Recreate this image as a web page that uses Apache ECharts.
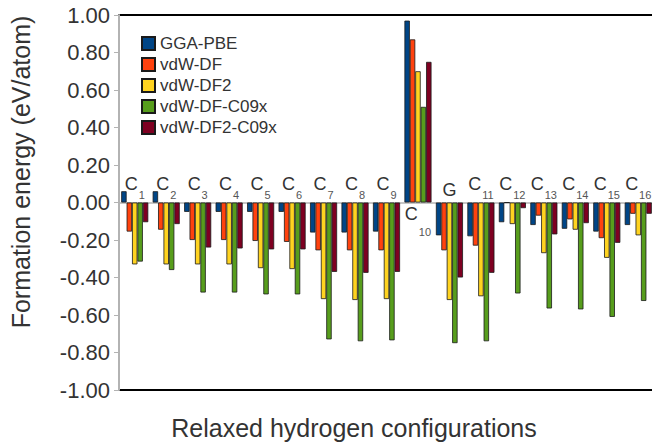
<!DOCTYPE html>
<html>
<head>
<meta charset="utf-8">
<script src="https://cdn.jsdelivr.net/npm/echarts@6/dist/echarts.min.js"></script>
<style>
  html, body { margin: 0; padding: 0; background: #fff; }
  #chart { width: 652px; height: 445px; }
</style>
</head>
<body>
<div id="chart"></div>
<script>
// Hydrogen configurations along the x axis
const categories = ['C1', 'C2', 'C3', 'C4', 'C5', 'C6', 'C7', 'C8', 'C9', 'C10',
                    'G', 'C11', 'C12', 'C13', 'C14', 'C15', 'C16'];

// Formation energies (eV/atom) per functional
const ggaPbe   = [0.06, 0.06, -0.05, -0.05, -0.05, -0.05, -0.16, -0.16, -0.155, 0.97,
                  -0.175, -0.18, -0.105, -0.12, -0.14, -0.155, -0.12];
const vdwDf    = [-0.155, -0.145, -0.20, -0.20, -0.205, -0.21, -0.255, -0.255, -0.255, 0.87,
                  -0.255, -0.23, 0.0, -0.07, -0.09, -0.19, -0.06];
const vdwDf2   = [-0.33, -0.33, -0.33, -0.33, -0.35, -0.355, -0.515, -0.52, -0.515, 0.70,
                  -0.52, -0.50, -0.115, -0.27, -0.145, -0.295, -0.175];
const vdwDfC09 = [-0.315, -0.36, -0.48, -0.48, -0.49, -0.49, -0.73, -0.74, -0.735, 0.51,
                  -0.75, -0.74, -0.485, -0.565, -0.57, -0.61, -0.525];
const vdwDf2C09 = [-0.105, -0.115, -0.24, -0.245, -0.25, -0.25, -0.37, -0.375, -0.37, 0.75,
                   -0.40, -0.375, -0.03, -0.17, -0.11, -0.215, -0.06];

const seriesNames = ['GGA-PBE', 'vdW-DF', 'vdW-DF2', 'vdW-DF-C09x', 'vdW-DF2-C09x'];
const seriesValues = [ggaPbe, vdwDf, vdwDf2, vdwDfC09, vdwDf2C09];
const seriesColors = ['#004586', '#ff420e', '#ffd320', '#579d1c', '#7e0021'];

// Y axis ticks
const yMin = -1.0, yMax = 1.0, yStep = 0.2;

const FONT = "'Liberation Sans', Arial, sans-serif";

// Plot area
const GRID_TOP = 15, GRID_BOTTOM = 55, CHART_H = 445;
const plotH = CHART_H - GRID_TOP - GRID_BOTTOM;
// distance from the plot's bottom / top edge up / down to the zero line
const zeroFromBottom = plotH * (0 - yMin) / (yMax - yMin);
const zeroFromTop = plotH * (yMax - 0) / (yMax - yMin);

// Category with positive bars gets its label under the zero line
const belowLabels = ['C10'];

function richLabel(name, sub) {
  const m = /^([A-Z])(\d+)$/.exec(name);
  if (!m) return '{c|' + name + '}';
  return '{c|' + m[1] + '}{' + sub + '|' + m[2] + '}';
}

const richStyles = {
  c: { fontSize: 18, fontFamily: FONT, color: '#333333', verticalAlign: 'top', lineHeight: 20 },
  s: { fontSize: 11, fontFamily: FONT, color: '#555555', verticalAlign: 'bottom', padding: [15, 0, 0, 1] },
  b: { fontSize: 11, fontFamily: FONT, color: '#555555', verticalAlign: 'bottom', padding: [22, 0, 0, 1] }
};

const chart = echarts.init(document.getElementById('chart'), null, { renderer: 'svg' });

chart.setOption({
  animation: false,
  backgroundColor: '#ffffff',
  grid: {
    left: 119, top: GRID_TOP, right: -2, bottom: GRID_BOTTOM,
    outerBoundsMode: 'none', containLabel: false,
    show: true, borderColor: '#000000', borderWidth: 2, backgroundColor: 'transparent'
  },
  legend: {
    orient: 'vertical',
    left: 136, top: 30,
    itemWidth: 13, itemHeight: 13, itemGap: 4,
    icon: 'rect',
    textStyle: { fontSize: 17, fontFamily: FONT, color: '#333333' },
    data: seriesNames
  },
  xAxis: [
    {
      // zero line, labels beneath it
      type: 'category', data: categories, position: 'bottom',
      offset: -zeroFromBottom,
      axisLine: { onZero: false, lineStyle: { color: '#b3b3b3', width: 1.5 } },
      axisTick: { show: false },
      splitLine: { show: false },
      axisLabel: {
        interval: 0, margin: 2, hideOverlap: false,
        formatter: v => belowLabels.includes(v) ? richLabel(v, 'b') : '',
        rich: richStyles
      }
    },
    {
      // labels above the zero line
      type: 'category', data: categories, position: 'top',
      offset: -zeroFromTop,
      axisLine: { show: false, onZero: false },
      axisTick: { show: false },
      splitLine: { show: false },
      axisLabel: {
        interval: 0, margin: 2, hideOverlap: false,
        formatter: v => belowLabels.includes(v) ? '' : richLabel(v, 's'),
        rich: richStyles
      }
    }
  ],
  yAxis: {
    type: 'value', min: yMin, max: yMax, interval: yStep,
    z: 5,
    axisLine: { show: true, lineStyle: { color: '#b3b3b3', width: 2 } },
    axisTick: { show: true, length: 5, lineStyle: { color: '#b3b3b3', width: 1 } },
    splitLine: { show: false },
    axisLabel: {
      margin: 9, fontSize: 22, fontFamily: FONT, color: '#333333',
      formatter: v => v.toFixed(2)
    }
  },
  series: seriesNames.map((name, i) => ({
    name: name,
    type: 'bar',
    xAxisIndex: 0,
    data: seriesValues[i],
    barGap: '0%',
    barCategoryGap: '14%',
    itemStyle: { color: seriesColors[i], borderColor: '#1a1a1a', borderWidth: 0.8 }
  })),
  graphic: [
    {
      type: 'text', x: 21, y: 172, rotation: Math.PI / 2,
      style: {
        text: 'Formation energy (eV/atom)', align: 'center', verticalAlign: 'middle',
        font: "25px 'Liberation Sans', Arial, sans-serif", fill: '#333333'
      }
    },
    {
      type: 'text', x: 354, y: 428,
      style: {
        text: 'Relaxed hydrogen configurations', align: 'center', verticalAlign: 'middle',
        font: "25px 'Liberation Sans', Arial, sans-serif", fill: '#333333'
      }
    }
  ]
});
</script>
</body>
</html>
